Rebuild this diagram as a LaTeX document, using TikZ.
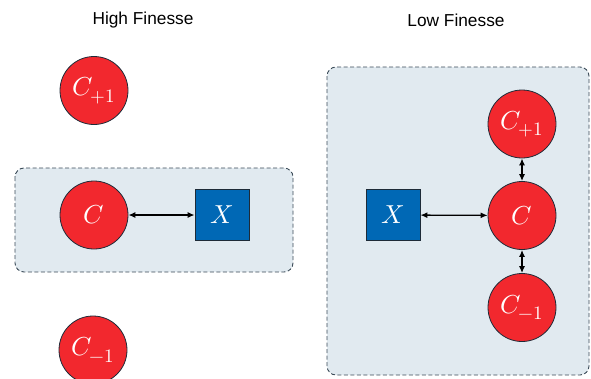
\documentclass[tikz,border=0pt]{standalone}
\usepackage{fontspec}
\usepackage{unicode-math}
\setmathfont{Latin Modern Math}
\setsansfont{Liberation Sans}
\usetikzlibrary{arrows.meta}
\newcommand\cavsub[1]{_{\mbox{\fontsize{19}{21}\selectfont$#1$}}}
\definecolor{cred}{HTML}{F2282E}
\definecolor{cblue}{HTML}{0068B5}
\definecolor{cline}{HTML}{1E2B38}
\definecolor{gfill}{HTML}{E1EAF0}
\definecolor{gline}{HTML}{3A4A57}
\tikzset{
  cav/.style={circle, minimum size=68pt, inner sep=0pt, fill=cred, draw=cline, line width=0.8pt, text=white, font=\fontsize{26}{28}\selectfont},
  emitter/.style={rectangle, minimum width=54pt, minimum height=51pt, inner sep=0pt, fill=cblue, draw=cline, line width=0.8pt, text=white, font=\fontsize{26}{28}\selectfont},
  group/.style={rounded corners=9pt, dash pattern=on 4pt off 2.5pt, draw=gline, fill=gfill, line width=0.9pt},
  title/.style={font=\sffamily\fontsize{17.3}{20}\selectfont, text=black},
  link/.style={{Latex[length=7pt,width=6pt]}-{Latex[length=7pt,width=6pt]}, line width=1.3pt, black}
}
\begin{document}
\begin{tikzpicture}[x=1pt,y=-1pt]
\useasboundingbox (0,0) rectangle (591,378);
% titles
\node[title] (t1) at (143,20) {High Finesse};
\node[title] (t2) at (456,20) {Low Finesse};
% groups
\draw[group] (15,168) rectangle (293,272);
\draw[group] (327,67) rectangle (589,375);
% left side
\node[cav] (lcp) at (94,90.5) {$C\cavsub{+1}$};
\node[cav] (lc) at (94,215) {$C$};
\node[cav] (lcm) at (93,350) {$C\cavsub{-1}$};
\node[emitter] (lx) at (222,215) {$X$};
\draw[link] (lc) -- (lx);
% right side
\node[cav] (rcp) at (522,124) {$C\cavsub{+1}$};
\node[cav] (rc) at (522,215.5) {$C$};
\node[cav] (rcm) at (522,307.5) {$C\cavsub{-1}$};
\node[emitter] (rx) at (393,215) {$X$};
\draw[link] (rx) -- (rc);
\draw[link] (rcp) -- (rc);
\draw[link] (rc) -- (rcm);
\end{tikzpicture}
\end{document}
